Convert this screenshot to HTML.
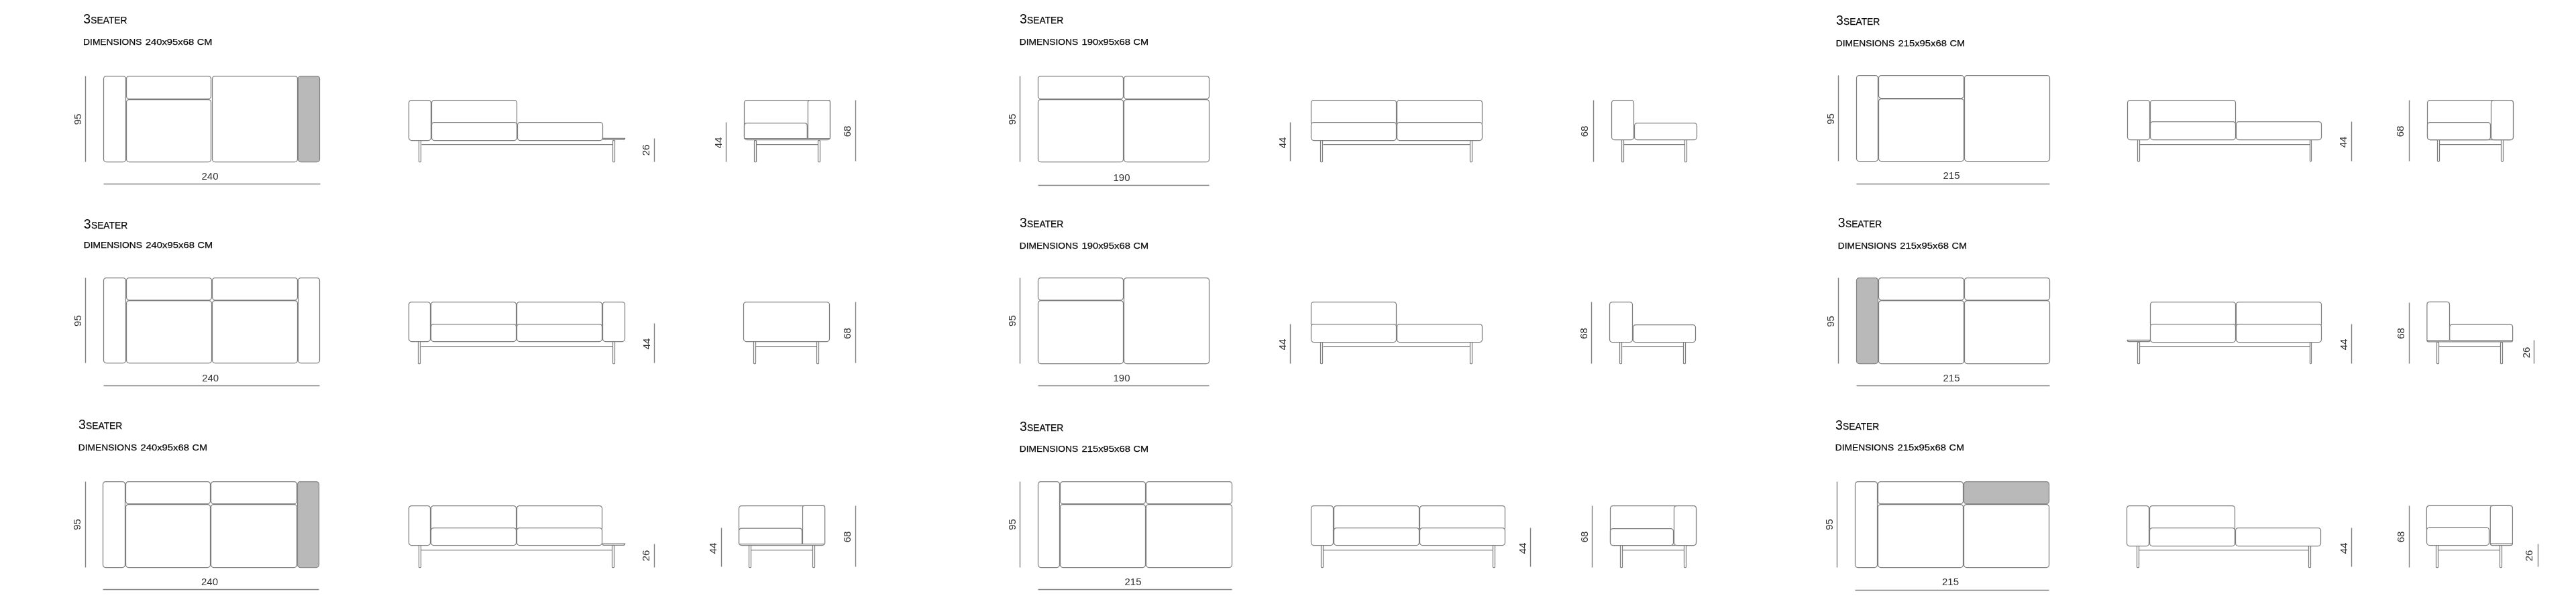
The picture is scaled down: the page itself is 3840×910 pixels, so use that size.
<!DOCTYPE html>
<html><head><meta charset="utf-8"><title>3 Seater dimensions</title>
<style>
html,body{margin:0;padding:0;background:#fff;}
body{width:3840px;height:910px;overflow:hidden;}
svg{display:block;}
.t{font-family:"Liberation Sans",sans-serif;fill:#080808;stroke:none;}
.b{stroke:#080808;stroke-width:0.25px;}
.n{font-family:"Liberation Sans",sans-serif;fill:#333;stroke:none;}
</style></head><body>
<svg width="3840" height="910" viewBox="0 0 3840 910">
<g fill="none" stroke="#7d7d7d" stroke-width="1.25" opacity="0.999">
<text x="124.2" y="35.4" class="t"><tspan font-size="19.5">3</tspan><tspan font-size="13.8" dx="0.3" class="b">SEATER</tspan></text>
<text x="124.1" y="67.2" class="t b" font-size="13.6" textLength="87.3" lengthAdjust="spacingAndGlyphs">DIMENSIONS</text>
<text x="216.7" y="67.2" class="t b" font-size="13.6" textLength="72.6" lengthAdjust="spacingAndGlyphs">240x95x68</text>
<text x="293.8" y="67.2" class="t b" font-size="13.6" textLength="22.6" lengthAdjust="spacingAndGlyphs">CM</text>
<line x1="127.5" y1="113.5" x2="127.5" y2="241.5" stroke="#808080" stroke-width="1.4"/>
<text x="0" y="5.37" text-anchor="middle" transform="translate(115.6 178) rotate(-90)" class="n" font-size="15">95</text>
<rect x="154.5" y="113.5" width="33" height="128" rx="4" fill="#fff"/>
<rect x="188.5" y="113.5" width="126" height="34" rx="4" fill="#fff"/>
<rect x="188.5" y="148.5" width="126" height="93" rx="4" fill="#fff"/>
<rect x="316.5" y="113.5" width="127" height="128" rx="4" fill="#fff"/>
<rect x="444.5" y="113.5" width="32" height="128" rx="4" fill="#b9b9b9" stroke="#858585"/>
<line x1="154.5" y1="274.5" x2="477.5" y2="274.5" stroke="#808080" stroke-width="1.4"/>
<text x="313" y="268.37" text-anchor="middle" class="n" font-size="15">240</text>
<line x1="628.5" y1="215.5" x2="913.5" y2="215.5"/>
<rect x="643.5" y="149.5" width="127" height="37" rx="4" fill="#fff"/>
<rect x="609.5" y="149.5" width="33" height="60" rx="4" fill="#fff"/>
<rect x="643.5" y="182.5" width="127" height="27" rx="4" fill="#fff"/>
<rect x="771.5" y="182.5" width="127" height="27" rx="4" fill="#fff"/>
<path d="M898.2,206.3 L931.6,206.3 Q931.6,208.4 929.1,208.4 L900.7,208.4 Q898.2,208.4 898.2,206.3 Z" fill="#fff"/>
<rect x="624.5" y="209.5" width="3" height="32" rx="0.8" fill="#fff"/>
<rect x="913.5" y="209.5" width="3" height="32" rx="0.8" fill="#fff"/>
<line x1="975.5" y1="206.5" x2="975.5" y2="241.5" stroke="#808080" stroke-width="1.4"/>
<text x="0" y="5.37" text-anchor="middle" transform="translate(963 224) rotate(-90)" class="n" font-size="15">26</text>
<rect x="1109.5" y="149.5" width="128" height="59" rx="4" fill="#fff"/>
<path d="M1109.5,206.4 L1109.5,187.6 Q1109.5,183.6 1113.5,183.6 L1199.3,183.6 Q1203.3,183.6 1203.3,187.6 L1203.3,206.4" fill="#fff"/>
<path d="M1204.4,206.4 L1204.4,152.1 Q1204.4,149.6 1206.9,149.6 L1234.9,149.6 Q1237.4,149.6 1237.4,152.1 L1237.4,206.4" fill="#fff"/>
<line x1="1109.5" y1="206.5" x2="1237.5" y2="206.5"/>
<line x1="1127.5" y1="215.5" x2="1219.5" y2="215.5"/>
<rect x="1124.5" y="209.5" width="3" height="32" rx="0.8" fill="#fff"/>
<rect x="1219.5" y="209.5" width="3" height="32" rx="0.8" fill="#fff"/>
<line x1="1082.5" y1="182.5" x2="1082.5" y2="241.5" stroke="#808080" stroke-width="1.4"/>
<text x="0" y="5.37" text-anchor="middle" transform="translate(1071 213) rotate(-90)" class="n" font-size="15">44</text>
<line x1="1275.5" y1="149.5" x2="1275.5" y2="240.5" stroke="#808080" stroke-width="1.4"/>
<text x="0" y="5.37" text-anchor="middle" transform="translate(1263 196) rotate(-90)" class="n" font-size="15">68</text>
<text x="1519.9" y="35.4" class="t"><tspan font-size="19.5">3</tspan><tspan font-size="13.8" dx="0.3" class="b">SEATER</tspan></text>
<text x="1519.8" y="67.2" class="t b" font-size="13.6" textLength="87.3" lengthAdjust="spacingAndGlyphs">DIMENSIONS</text>
<text x="1612.4" y="67.2" class="t b" font-size="13.6" textLength="72.6" lengthAdjust="spacingAndGlyphs">190x95x68</text>
<text x="1689.5" y="67.2" class="t b" font-size="13.6" textLength="22.6" lengthAdjust="spacingAndGlyphs">CM</text>
<line x1="1520.5" y1="113.5" x2="1520.5" y2="241.5" stroke="#808080" stroke-width="1.4"/>
<text x="0" y="5.37" text-anchor="middle" transform="translate(1508.4 178) rotate(-90)" class="n" font-size="15">95</text>
<rect x="1547.5" y="113.5" width="127" height="34" rx="4" fill="#fff"/>
<rect x="1675.5" y="113.5" width="127" height="34" rx="4" fill="#fff"/>
<rect x="1547.5" y="148.5" width="127" height="93" rx="4" fill="#fff"/>
<rect x="1675.5" y="148.5" width="127" height="93" rx="4" fill="#fff"/>
<line x1="1547.5" y1="276.5" x2="1802.5" y2="276.5" stroke="#808080" stroke-width="1.4"/>
<text x="1672" y="269.97" text-anchor="middle" class="n" font-size="15">190</text>
<line x1="1972.5" y1="215.5" x2="2191.5" y2="215.5"/>
<rect x="1954.5" y="149.5" width="127" height="37" rx="4" fill="#fff"/>
<rect x="2082.5" y="149.5" width="127" height="37" rx="4" fill="#fff"/>
<rect x="1954.5" y="182.5" width="127" height="27" rx="4" fill="#fff"/>
<rect x="2082.5" y="182.5" width="127" height="27" rx="4" fill="#fff"/>
<rect x="1968.5" y="209.5" width="3" height="32" rx="0.8" fill="#fff"/>
<rect x="2191.5" y="209.5" width="3" height="32" rx="0.8" fill="#fff"/>
<line x1="1923.5" y1="182.5" x2="1923.5" y2="240.5" stroke="#808080" stroke-width="1.4"/>
<text x="0" y="5.37" text-anchor="middle" transform="translate(1912 213) rotate(-90)" class="n" font-size="15">44</text>
<line x1="2420.5" y1="215.5" x2="2511.5" y2="215.5"/>
<rect x="2402.5" y="149.5" width="33" height="59" rx="4" fill="#fff"/>
<rect x="2436.5" y="183.5" width="93" height="25" rx="4" fill="#fff"/>
<rect x="2417.5" y="208.5" width="3" height="33" rx="0.8" fill="#fff"/>
<rect x="2511.5" y="208.5" width="3" height="33" rx="0.8" fill="#fff"/>
<line x1="2375.5" y1="149.5" x2="2375.5" y2="241.5" stroke="#808080" stroke-width="1.4"/>
<text x="0" y="5.37" text-anchor="middle" transform="translate(2362 196) rotate(-90)" class="n" font-size="15">68</text>
<text x="2736.9" y="37.4" class="t"><tspan font-size="19.5">3</tspan><tspan font-size="13.8" dx="0.3" class="b">SEATER</tspan></text>
<text x="2736.8" y="69.1" class="t b" font-size="13.6" textLength="87.3" lengthAdjust="spacingAndGlyphs">DIMENSIONS</text>
<text x="2829.4" y="69.1" class="t b" font-size="13.6" textLength="72.6" lengthAdjust="spacingAndGlyphs">215x95x68</text>
<text x="2906.5" y="69.1" class="t b" font-size="13.6" textLength="22.6" lengthAdjust="spacingAndGlyphs">CM</text>
<line x1="2740.5" y1="112.5" x2="2740.5" y2="240.5" stroke="#808080" stroke-width="1.4"/>
<text x="0" y="5.37" text-anchor="middle" transform="translate(2728.4 177.4) rotate(-90)" class="n" font-size="15">95</text>
<rect x="2767.5" y="112.5" width="32" height="128" rx="4" fill="#fff"/>
<rect x="2800.5" y="112.5" width="127" height="34" rx="4" fill="#fff"/>
<rect x="2800.5" y="147.5" width="127" height="93" rx="4" fill="#fff"/>
<rect x="2928.5" y="112.5" width="127" height="128" rx="4" fill="#fff"/>
<line x1="2767.5" y1="274.5" x2="3055.5" y2="274.5" stroke="#808080" stroke-width="1.4"/>
<text x="2909" y="267.37" text-anchor="middle" class="n" font-size="15">215</text>
<line x1="3189.5" y1="215.5" x2="3443.5" y2="215.5"/>
<rect x="3205.5" y="149.5" width="127" height="36" rx="4" fill="#fff"/>
<rect x="3171.5" y="149.5" width="33" height="59" rx="4" fill="#fff"/>
<rect x="3205.5" y="181.5" width="127" height="27" rx="4" fill="#fff"/>
<rect x="3333.5" y="181.5" width="127" height="27" rx="4" fill="#fff"/>
<rect x="3186.5" y="208.5" width="3" height="32" rx="0.8" fill="#fff"/>
<rect x="3443.5" y="208.5" width="2" height="32" rx="0.8" fill="#fff"/>
<line x1="3505.5" y1="181.5" x2="3505.5" y2="240.5" stroke="#808080" stroke-width="1.4"/>
<text x="0" y="5.37" text-anchor="middle" transform="translate(3493 212) rotate(-90)" class="n" font-size="15">44</text>
<line x1="3636.5" y1="215.5" x2="3728.5" y2="215.5"/>
<rect x="3618.5" y="149.5" width="128" height="59" rx="4" fill="#fff"/>
<rect x="3713.5" y="149.5" width="33" height="59" rx="4" fill="#fff"/>
<rect x="3618.5" y="182.5" width="94" height="26" rx="4" fill="#fff"/>
<rect x="3633.5" y="208.5" width="3" height="32" rx="0.8" fill="#fff"/>
<rect x="3728.5" y="208.5" width="3" height="32" rx="0.8" fill="#fff"/>
<line x1="3591.5" y1="149.5" x2="3591.5" y2="240.5" stroke="#808080" stroke-width="1.4"/>
<text x="0" y="5.37" text-anchor="middle" transform="translate(3578 196) rotate(-90)" class="n" font-size="15">68</text>
<text x="124.8" y="340.8" class="t"><tspan font-size="19.5">3</tspan><tspan font-size="13.8" dx="0.3" class="b">SEATER</tspan></text>
<text x="124.7" y="370.3" class="t b" font-size="13.6" textLength="87.3" lengthAdjust="spacingAndGlyphs">DIMENSIONS</text>
<text x="217.3" y="370.3" class="t b" font-size="13.6" textLength="72.6" lengthAdjust="spacingAndGlyphs">240x95x68</text>
<text x="294.4" y="370.3" class="t b" font-size="13.6" textLength="22.6" lengthAdjust="spacingAndGlyphs">CM</text>
<line x1="127.5" y1="414.5" x2="127.5" y2="541.5" stroke="#808080" stroke-width="1.4"/>
<text x="0" y="5.37" text-anchor="middle" transform="translate(115.6 478.6) rotate(-90)" class="n" font-size="15">95</text>
<rect x="154.5" y="414.5" width="33" height="127" rx="4" fill="#fff"/>
<rect x="188.5" y="414.5" width="127" height="33" rx="4" fill="#fff"/>
<rect x="316.5" y="414.5" width="127" height="33" rx="4" fill="#fff"/>
<rect x="188.5" y="448.5" width="127" height="93" rx="4" fill="#fff"/>
<rect x="316.5" y="448.5" width="127" height="93" rx="4" fill="#fff"/>
<rect x="444.5" y="414.5" width="32" height="127" rx="4" fill="#fff"/>
<line x1="154.5" y1="575.5" x2="476.5" y2="575.5" stroke="#808080" stroke-width="1.4"/>
<text x="313.7" y="568.87" text-anchor="middle" class="n" font-size="15">240</text>
<line x1="627.5" y1="516.5" x2="913.5" y2="516.5"/>
<rect x="642.5" y="450.5" width="127" height="37" rx="4" fill="#fff"/>
<rect x="770.5" y="450.5" width="127" height="37" rx="4" fill="#fff"/>
<rect x="609.5" y="450.5" width="32" height="59" rx="4" fill="#fff"/>
<rect x="642.5" y="483.5" width="127" height="26" rx="4" fill="#fff"/>
<rect x="770.5" y="483.5" width="127" height="26" rx="4" fill="#fff"/>
<rect x="898.5" y="450.5" width="33" height="59" rx="4" fill="#fff"/>
<rect x="623.5" y="509.5" width="3" height="33" rx="0.8" fill="#fff"/>
<rect x="913.5" y="509.5" width="3" height="33" rx="0.8" fill="#fff"/>
<line x1="975.5" y1="482.5" x2="975.5" y2="541.5" stroke="#808080" stroke-width="1.4"/>
<text x="0" y="5.37" text-anchor="middle" transform="translate(963.6 513) rotate(-90)" class="n" font-size="15">44</text>
<line x1="1126.5" y1="516.5" x2="1217.5" y2="516.5"/>
<rect x="1108.5" y="450.5" width="128" height="59" rx="4" fill="#fff"/>
<rect x="1123.5" y="509.5" width="3" height="33" rx="0.8" fill="#fff"/>
<rect x="1217.5" y="509.5" width="3" height="33" rx="0.8" fill="#fff"/>
<line x1="1275.5" y1="450.5" x2="1275.5" y2="541.5" stroke="#808080" stroke-width="1.4"/>
<text x="0" y="5.37" text-anchor="middle" transform="translate(1263 497.4) rotate(-90)" class="n" font-size="15">68</text>
<text x="1519.9" y="338.9" class="t"><tspan font-size="19.5">3</tspan><tspan font-size="13.8" dx="0.3" class="b">SEATER</tspan></text>
<text x="1519.8" y="370.6" class="t b" font-size="13.6" textLength="87.3" lengthAdjust="spacingAndGlyphs">DIMENSIONS</text>
<text x="1612.4" y="370.6" class="t b" font-size="13.6" textLength="72.6" lengthAdjust="spacingAndGlyphs">190x95x68</text>
<text x="1689.5" y="370.6" class="t b" font-size="13.6" textLength="22.6" lengthAdjust="spacingAndGlyphs">CM</text>
<line x1="1520.5" y1="414.5" x2="1520.5" y2="542.5" stroke="#808080" stroke-width="1.4"/>
<text x="0" y="5.37" text-anchor="middle" transform="translate(1508.4 478.6) rotate(-90)" class="n" font-size="15">95</text>
<rect x="1547.5" y="414.5" width="127" height="33" rx="4" fill="#fff"/>
<rect x="1547.5" y="448.5" width="127" height="94" rx="4" fill="#fff"/>
<rect x="1675.5" y="414.5" width="127" height="128" rx="4" fill="#fff"/>
<line x1="1547.5" y1="575.5" x2="1802.5" y2="575.5" stroke="#808080" stroke-width="1.4"/>
<text x="1672" y="568.87" text-anchor="middle" class="n" font-size="15">190</text>
<line x1="1972.5" y1="516.5" x2="2191.5" y2="516.5"/>
<rect x="1954.5" y="450.5" width="127" height="37" rx="4" fill="#fff"/>
<rect x="1954.5" y="483.5" width="127" height="27" rx="4" fill="#fff"/>
<rect x="2082.5" y="483.5" width="127" height="27" rx="4" fill="#fff"/>
<rect x="1968.5" y="510.5" width="3" height="32" rx="0.8" fill="#fff"/>
<rect x="2191.5" y="510.5" width="3" height="32" rx="0.8" fill="#fff"/>
<line x1="1923.5" y1="483.5" x2="1923.5" y2="542.5" stroke="#808080" stroke-width="1.4"/>
<text x="0" y="5.37" text-anchor="middle" transform="translate(1912 514) rotate(-90)" class="n" font-size="15">44</text>
<line x1="2418.5" y1="516.5" x2="2509.5" y2="516.5"/>
<rect x="2399.5" y="450.5" width="34" height="60" rx="4" fill="#fff"/>
<rect x="2434.5" y="484.5" width="93" height="26" rx="4" fill="#fff"/>
<rect x="2414.5" y="510.5" width="3" height="32" rx="0.8" fill="#fff"/>
<rect x="2509.5" y="510.5" width="3" height="32" rx="0.8" fill="#fff"/>
<line x1="2372.5" y1="450.5" x2="2372.5" y2="542.5" stroke="#808080" stroke-width="1.4"/>
<text x="0" y="5.37" text-anchor="middle" transform="translate(2361 497.4) rotate(-90)" class="n" font-size="15">68</text>
<text x="2739.8" y="338.9" class="t"><tspan font-size="19.5">3</tspan><tspan font-size="13.8" dx="0.3" class="b">SEATER</tspan></text>
<text x="2739.7" y="370.6" class="t b" font-size="13.6" textLength="87.3" lengthAdjust="spacingAndGlyphs">DIMENSIONS</text>
<text x="2832.3" y="370.6" class="t b" font-size="13.6" textLength="72.6" lengthAdjust="spacingAndGlyphs">215x95x68</text>
<text x="2909.4" y="370.6" class="t b" font-size="13.6" textLength="22.6" lengthAdjust="spacingAndGlyphs">CM</text>
<line x1="2740.5" y1="414.5" x2="2740.5" y2="542.5" stroke="#808080" stroke-width="1.4"/>
<text x="0" y="5.37" text-anchor="middle" transform="translate(2728.4 479.5) rotate(-90)" class="n" font-size="15">95</text>
<rect x="2767.5" y="414.5" width="32" height="128" rx="4" fill="#b9b9b9" stroke="#858585"/>
<rect x="2800.5" y="414.5" width="127" height="33" rx="4" fill="#fff"/>
<rect x="2928.5" y="414.5" width="127" height="33" rx="4" fill="#fff"/>
<rect x="2800.5" y="448.5" width="127" height="94" rx="4" fill="#fff"/>
<rect x="2928.5" y="448.5" width="127" height="94" rx="4" fill="#fff"/>
<line x1="2767.5" y1="575.5" x2="3055.5" y2="575.5" stroke="#808080" stroke-width="1.4"/>
<text x="2909" y="568.87" text-anchor="middle" class="n" font-size="15">215</text>
<line x1="3189.5" y1="516.5" x2="3443.5" y2="516.5"/>
<rect x="3205.5" y="450.5" width="127" height="37" rx="4" fill="#fff"/>
<rect x="3333.5" y="450.5" width="127" height="37" rx="4" fill="#fff"/>
<rect x="3205.5" y="483.5" width="127" height="27" rx="4" fill="#fff"/>
<rect x="3333.5" y="483.5" width="127" height="27" rx="4" fill="#fff"/>
<path d="M3171.1,507.3 L3205.4,507.3 Q3205.4,509.6 3202.9,509.6 L3173.6,509.6 Q3171.1,509.6 3171.1,507.3 Z" fill="#fff"/>
<rect x="3186.5" y="510.5" width="3" height="32" rx="0.8" fill="#fff"/>
<rect x="3443.5" y="510.5" width="2" height="32" rx="0.8" fill="#fff"/>
<line x1="3505.5" y1="483.5" x2="3505.5" y2="542.5" stroke="#808080" stroke-width="1.4"/>
<text x="0" y="5.37" text-anchor="middle" transform="translate(3493.6 514) rotate(-90)" class="n" font-size="15">44</text>
<line x1="3635.5" y1="516.5" x2="3727.5" y2="516.5"/>
<path d="M3617.9,507.5 L3617.9,454.4 Q3617.9,450.4 3621.9,450.4 L3647.5,450.4 Q3651.5,450.4 3651.5,454.4 L3651.5,507.5" fill="#fff"/>
<path d="M3651.7,507.5 L3651.7,488 Q3651.7,484 3655.7,484 L3741.6,484 Q3745.6,484 3745.6,488 L3745.6,507.5" fill="#fff"/>
<path d="M3617.9,507.5 L3745.6,507.5 Q3745.6,509.8 3743.1,509.8 L3620.4,509.8 Q3617.9,509.8 3617.9,507.5 Z" fill="#fff"/>
<rect x="3632.5" y="510.5" width="3" height="32" rx="0.8" fill="#fff"/>
<rect x="3727.5" y="510.5" width="3" height="32" rx="0.8" fill="#fff"/>
<line x1="3591.5" y1="451.5" x2="3591.5" y2="542.5" stroke="#808080" stroke-width="1.4"/>
<text x="0" y="5.37" text-anchor="middle" transform="translate(3579 497.4) rotate(-90)" class="n" font-size="15">68</text>
<line x1="3777.5" y1="507.5" x2="3777.5" y2="542.5" stroke="#808080" stroke-width="1.4"/>
<text x="0" y="5.37" text-anchor="middle" transform="translate(3765.6 526) rotate(-90)" class="n" font-size="15">26</text>
<text x="116.9" y="640.4" class="t"><tspan font-size="19.5">3</tspan><tspan font-size="13.8" dx="0.3" class="b">SEATER</tspan></text>
<text x="116.8" y="671.9" class="t b" font-size="13.6" textLength="87.3" lengthAdjust="spacingAndGlyphs">DIMENSIONS</text>
<text x="209.4" y="671.9" class="t b" font-size="13.6" textLength="72.6" lengthAdjust="spacingAndGlyphs">240x95x68</text>
<text x="286.5" y="671.9" class="t b" font-size="13.6" textLength="22.6" lengthAdjust="spacingAndGlyphs">CM</text>
<line x1="127.5" y1="718.5" x2="127.5" y2="846.5" stroke="#808080" stroke-width="1.4"/>
<text x="0" y="5.37" text-anchor="middle" transform="translate(115 782.5) rotate(-90)" class="n" font-size="15">95</text>
<rect x="153.5" y="718.5" width="33" height="128" rx="4" fill="#fff"/>
<rect x="187.5" y="718.5" width="126" height="33" rx="4" fill="#fff"/>
<rect x="314.5" y="718.5" width="128" height="33" rx="4" fill="#fff"/>
<rect x="187.5" y="752.5" width="126" height="94" rx="4" fill="#fff"/>
<rect x="314.5" y="752.5" width="128" height="94" rx="4" fill="#fff"/>
<rect x="443.5" y="718.5" width="32" height="128" rx="4" fill="#b9b9b9" stroke="#858585"/>
<line x1="153.5" y1="879.5" x2="475.5" y2="879.5" stroke="#808080" stroke-width="1.4"/>
<text x="312.5" y="872.77" text-anchor="middle" class="n" font-size="15">240</text>
<line x1="627.5" y1="820.5" x2="912.5" y2="820.5"/>
<rect x="642.5" y="754.5" width="127" height="37" rx="4" fill="#fff"/>
<rect x="770.5" y="754.5" width="127" height="37" rx="4" fill="#fff"/>
<rect x="609.5" y="754.5" width="32" height="59" rx="4" fill="#fff"/>
<rect x="642.5" y="787.5" width="127" height="26" rx="4" fill="#fff"/>
<rect x="770.5" y="787.5" width="127" height="26" rx="4" fill="#fff"/>
<path d="M898,811 L931.6,811 Q931.6,813.3 929.1,813.3 L900.5,813.3 Q898,813.3 898,811 Z" fill="#fff"/>
<rect x="624.5" y="813.5" width="3" height="33" rx="0.8" fill="#fff"/>
<rect x="912.5" y="813.5" width="3" height="33" rx="0.8" fill="#fff"/>
<line x1="975.5" y1="811.5" x2="975.5" y2="846.5" stroke="#808080" stroke-width="1.4"/>
<text x="0" y="5.37" text-anchor="middle" transform="translate(963 829) rotate(-90)" class="n" font-size="15">26</text>
<rect x="1101.5" y="754.5" width="128" height="59" rx="4" fill="#fff"/>
<path d="M1101.6,811.2 L1101.6,792 Q1101.6,788 1105.6,788 L1191.5,788 Q1195.5,788 1195.5,792 L1195.5,811.2" fill="#fff"/>
<path d="M1196.5,811.2 L1196.5,756.9 Q1196.5,754.4 1199,754.4 L1227.1,754.4 Q1229.6,754.4 1229.6,756.9 L1229.6,811.2" fill="#fff"/>
<line x1="1101.5" y1="811.5" x2="1229.5" y2="811.5"/>
<line x1="1119.5" y1="820.5" x2="1211.5" y2="820.5"/>
<rect x="1116.5" y="813.5" width="3" height="33" rx="0.8" fill="#fff"/>
<rect x="1211.5" y="813.5" width="3" height="33" rx="0.8" fill="#fff"/>
<line x1="1075.5" y1="787.5" x2="1075.5" y2="845.5" stroke="#808080" stroke-width="1.4"/>
<text x="0" y="5.37" text-anchor="middle" transform="translate(1063 818) rotate(-90)" class="n" font-size="15">44</text>
<line x1="1275.5" y1="754.5" x2="1275.5" y2="845.5" stroke="#808080" stroke-width="1.4"/>
<text x="0" y="5.37" text-anchor="middle" transform="translate(1263 801) rotate(-90)" class="n" font-size="15">68</text>
<text x="1519.9" y="642.5" class="t"><tspan font-size="19.5">3</tspan><tspan font-size="13.8" dx="0.3" class="b">SEATER</tspan></text>
<text x="1519.8" y="674.3" class="t b" font-size="13.6" textLength="87.3" lengthAdjust="spacingAndGlyphs">DIMENSIONS</text>
<text x="1612.4" y="674.3" class="t b" font-size="13.6" textLength="72.6" lengthAdjust="spacingAndGlyphs">215x95x68</text>
<text x="1689.5" y="674.3" class="t b" font-size="13.6" textLength="22.6" lengthAdjust="spacingAndGlyphs">CM</text>
<line x1="1520.5" y1="718.5" x2="1520.5" y2="846.5" stroke="#808080" stroke-width="1.4"/>
<text x="0" y="5.37" text-anchor="middle" transform="translate(1508.4 782.5) rotate(-90)" class="n" font-size="15">95</text>
<rect x="1547.5" y="718.5" width="32" height="128" rx="4" fill="#fff"/>
<rect x="1580.5" y="718.5" width="127" height="33" rx="4" fill="#fff"/>
<rect x="1708.5" y="718.5" width="128" height="33" rx="4" fill="#fff"/>
<rect x="1580.5" y="752.5" width="127" height="94" rx="4" fill="#fff"/>
<rect x="1708.5" y="752.5" width="128" height="94" rx="4" fill="#fff"/>
<line x1="1547.5" y1="879.5" x2="1836.5" y2="879.5" stroke="#808080" stroke-width="1.4"/>
<text x="1689" y="872.77" text-anchor="middle" class="n" font-size="15">215</text>
<line x1="1972.5" y1="820.5" x2="2225.5" y2="820.5"/>
<rect x="1988.5" y="754.5" width="127" height="37" rx="4" fill="#fff"/>
<rect x="2116.5" y="754.5" width="127" height="37" rx="4" fill="#fff"/>
<rect x="1954.5" y="754.5" width="33" height="59" rx="4" fill="#fff"/>
<rect x="1988.5" y="787.5" width="127" height="26" rx="4" fill="#fff"/>
<rect x="2116.5" y="787.5" width="127" height="26" rx="4" fill="#fff"/>
<rect x="1969.5" y="813.5" width="3" height="33" rx="0.8" fill="#fff"/>
<rect x="2225.5" y="813.5" width="3" height="33" rx="0.8" fill="#fff"/>
<line x1="2281.5" y1="787.5" x2="2281.5" y2="845.5" stroke="#808080" stroke-width="1.4"/>
<text x="0" y="5.37" text-anchor="middle" transform="translate(2269.4 818) rotate(-90)" class="n" font-size="15">44</text>
<line x1="2418.5" y1="820.5" x2="2510.5" y2="820.5"/>
<rect x="2400.5" y="754.5" width="128" height="59" rx="4" fill="#fff"/>
<rect x="2495.5" y="754.5" width="33" height="59" rx="4" fill="#fff"/>
<rect x="2400.5" y="788.5" width="94" height="25" rx="4" fill="#fff"/>
<rect x="2415.5" y="813.5" width="3" height="33" rx="0.8" fill="#fff"/>
<rect x="2510.5" y="813.5" width="3" height="33" rx="0.8" fill="#fff"/>
<line x1="2373.5" y1="754.5" x2="2373.5" y2="846.5" stroke="#808080" stroke-width="1.4"/>
<text x="0" y="5.37" text-anchor="middle" transform="translate(2361.6 801) rotate(-90)" class="n" font-size="15">68</text>
<text x="2735.9" y="640.8" class="t"><tspan font-size="19.5">3</tspan><tspan font-size="13.8" dx="0.3" class="b">SEATER</tspan></text>
<text x="2735.8" y="672.3" class="t b" font-size="13.6" textLength="87.3" lengthAdjust="spacingAndGlyphs">DIMENSIONS</text>
<text x="2828.4" y="672.3" class="t b" font-size="13.6" textLength="72.6" lengthAdjust="spacingAndGlyphs">215x95x68</text>
<text x="2905.5" y="672.3" class="t b" font-size="13.6" textLength="22.6" lengthAdjust="spacingAndGlyphs">CM</text>
<line x1="2738.5" y1="718.5" x2="2738.5" y2="846.5" stroke="#808080" stroke-width="1.4"/>
<text x="0" y="5.37" text-anchor="middle" transform="translate(2726.6 782.5) rotate(-90)" class="n" font-size="15">95</text>
<rect x="2765.5" y="718.5" width="33" height="128" rx="4" fill="#fff"/>
<rect x="2799.5" y="718.5" width="127" height="33" rx="4" fill="#fff"/>
<rect x="2927.5" y="718.5" width="127" height="33" rx="4" fill="#b9b9b9" stroke="#858585"/>
<rect x="2799.5" y="752.5" width="127" height="94" rx="4" fill="#fff"/>
<rect x="2927.5" y="752.5" width="127" height="94" rx="4" fill="#fff"/>
<line x1="2765.5" y1="880.5" x2="3054.5" y2="880.5" stroke="#808080" stroke-width="1.4"/>
<text x="2907.5" y="872.77" text-anchor="middle" class="n" font-size="15">215</text>
<line x1="3188.5" y1="820.5" x2="3441.5" y2="820.5"/>
<rect x="3204.5" y="754.5" width="127" height="37" rx="4" fill="#fff"/>
<rect x="3170.5" y="754.5" width="33" height="60" rx="4" fill="#fff"/>
<rect x="3204.5" y="787.5" width="127" height="27" rx="4" fill="#fff"/>
<rect x="3332.5" y="787.5" width="127" height="27" rx="4" fill="#fff"/>
<rect x="3185.5" y="814.5" width="3" height="32" rx="0.8" fill="#fff"/>
<rect x="3441.5" y="814.5" width="3" height="32" rx="0.8" fill="#fff"/>
<line x1="3505.5" y1="787.5" x2="3505.5" y2="845.5" stroke="#808080" stroke-width="1.4"/>
<text x="0" y="5.37" text-anchor="middle" transform="translate(3493.6 818) rotate(-90)" class="n" font-size="15">44</text>
<line x1="3634.5" y1="820.5" x2="3726.5" y2="820.5"/>
<path d="M3617.3,790 L3617.3,759.1 Q3617.3,754.3 3622.1,754.3 L3740.6,754.3 Q3745.4,754.3 3745.4,759.1 L3745.4,790" fill="#fff"/>
<path d="M3712.3,811 L3712.3,758.3 Q3712.3,754.3 3716.3,754.3 L3741.4,754.3 Q3745.4,754.3 3745.4,758.3 L3745.4,811" fill="#fff"/>
<path d="M3712.3,811 L3745.4,811 Q3745.4,813.5 3742.4,813.5 L3715.3,813.5 Q3712.3,813.5 3712.3,811 Z" fill="#fff"/>
<rect x="3617.5" y="786.5" width="93" height="27" rx="4.5" fill="#fff"/>
<rect x="3631.5" y="813.5" width="3" height="33" rx="0.8" fill="#fff"/>
<rect x="3726.5" y="813.5" width="3" height="33" rx="0.8" fill="#fff"/>
<line x1="3591.5" y1="754.5" x2="3591.5" y2="846.5" stroke="#808080" stroke-width="1.4"/>
<text x="0" y="5.37" text-anchor="middle" transform="translate(3579 801) rotate(-90)" class="n" font-size="15">68</text>
<line x1="3783.5" y1="811.5" x2="3783.5" y2="845.5" stroke="#808080" stroke-width="1.4"/>
<text x="0" y="5.37" text-anchor="middle" transform="translate(3770 829) rotate(-90)" class="n" font-size="15">26</text>
</g>
</svg>
</body></html>
